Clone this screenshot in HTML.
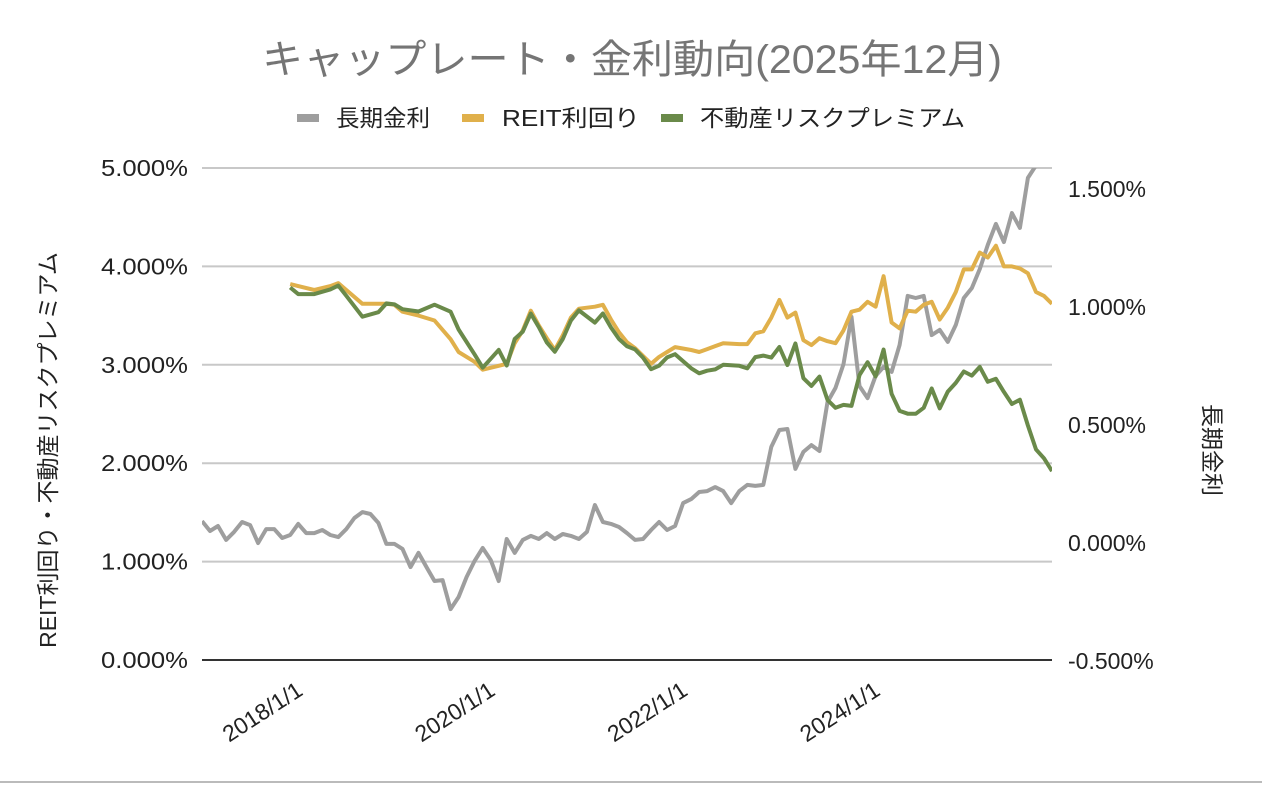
<!DOCTYPE html>
<html><head><meta charset="utf-8">
<style>
html,body{margin:0;padding:0;background:#fff;}
body{width:1262px;height:784px;overflow:hidden;font-family:"Liberation Sans","Noto Sans CJK JP",sans-serif;}
</style></head>
<body>
<svg id="chart" width="1262" height="784" xmlns="http://www.w3.org/2000/svg" style="font-family:'Liberation Sans','Noto Sans CJK JP',sans-serif">
<rect x="0" y="0" width="1262" height="784" fill="#fff"/>
<line x1="0" y1="782" x2="1262" y2="782" stroke="#bbb" stroke-width="2"/>
<text x="632" y="73" text-anchor="middle" font-size="40" fill="#757575" textLength="740" lengthAdjust="spacingAndGlyphs">キャップレート・金利動向(2025年12月)</text>
<g font-size="23" fill="#222">
 <g><rect x="297" y="114" width="22" height="8" fill="#9e9e9e"/><text x="336" y="126" textLength="94" lengthAdjust="spacingAndGlyphs">長期金利</text></g>
 <g><rect x="462" y="114" width="22" height="8" fill="#e0b04b"/><text x="502" y="126" textLength="138" lengthAdjust="spacingAndGlyphs">REIT利回り</text></g>
 <g><rect x="661" y="114" width="22" height="8" fill="#6a8a4a"/><text x="700" y="126" textLength="265" lengthAdjust="spacingAndGlyphs">不動産リスクプレミアム</text></g>
</g>
<g id="grid"></g>
<g id="marks"></g>
<g id="axes"></g>
<text transform="translate(56,450) rotate(-90)" text-anchor="middle" font-size="23" fill="#222">REIT利回り・不動産リスクプレミアム</text>
<text transform="translate(1204,450) rotate(90)" text-anchor="middle" font-size="23" fill="#222">長期金利</text>
</svg>
<script>
const leftTicks=[0,1,2,3,4,5];
const rightTicks=[-0.5,0,0.5,1.0,1.5];
const xTickMonths=[10,34,58,82];
const xTickLabels=["2018/1/1","2020/1/1","2022/1/1","2024/1/1"];
// long-term rate, monthly from month 0 (2017/3)
const jgb=[0.093,0.051,0.072,0.013,0.047,0.089,0.076,0,0.059,0.059,
0.021,0.034,0.081,0.042,0.042,0.055,0.034,0.025,0.059,0.106,
0.131,0.123,0.085,-0.004,-0.004,-0.025,-0.102,-0.042,-0.102,-0.161,
-0.157,-0.28,-0.229,-0.144,-0.076,-0.021,-0.072,-0.161,0.017,-0.042,
0.013,0.03,0.017,0.042,0.017,0.038,0.03,0.017,0.047,0.161,
0.089,0.081,0.068,0.042,0.013,0.017,0.055,0.089,0.055,0.072,
0.169,0.186,0.216,0.22,0.237,0.22,0.169,0.22,0.246,0.242,
0.246,0.407,0.479,0.483,0.314,0.386,0.415,0.39,0.597,0.657,
0.758,0.958,0.665,0.614,0.708,0.746,0.725,0.839,1.047,1.038,
1.047,0.881,0.903,0.852,0.924,1.038,1.08,1.161,1.263,1.352,
1.275,1.398,1.335,1.547,1.6,1.65,1.7];
const reitMonths=[11,12,14,16,17,18,20,22,23,24,25,27,29,31,32,34,35,37,38,39,
40,41,42,43,44,45,46,47,49,50,51,52,53,54,55,56,57,58,59,61,
62,63,64,65,67,68,69,70,71,72,73,74,75,76,77,78,79,80,81,82,
83,84,85,86,87,88,89,90,91,92,93,94,95,96,97,98,99,100,101,102,
103,104,105,106];
const reit=[3.82,3.80,3.76,3.80,3.83,3.76,3.62,3.62,3.62,3.61,
3.54,3.50,3.45,3.26,3.13,3.03,2.95,2.99,3.01,3.22,
3.35,3.55,3.40,3.27,3.15,3.30,3.48,3.57,3.59,3.61,
3.46,3.33,3.23,3.17,3.09,3.01,3.08,3.13,3.18,3.15,
3.13,3.16,3.19,3.22,3.21,3.21,3.32,3.34,3.48,3.66,
3.48,3.53,3.25,3.20,3.27,3.24,3.22,3.35,3.54,3.56,
3.64,3.59,3.90,3.43,3.37,3.55,3.54,3.61,3.64,3.46,
3.58,3.74,3.97,3.97,4.14,4.09,4.21,4.00,4.00,3.98,
3.93,3.74,3.70,3.62];
const premium=reit.map((v,i)=>v-jgb[reitMonths[i]]);

const NS="http://www.w3.org/2000/svg";
const X0=202,X1=1052,NM=106;
const xs=m=>X0+(X1-X0)*m/NM;
const yL=v=>660-v*98.4;
const yR=v=>543-v*236;
function mk(t,a,p){const e=document.createElementNS(NS,t);for(const k in a)e.setAttribute(k,a[k]);p.appendChild(e);return e;}
const grid=document.getElementById('grid'),axes=document.getElementById('axes'),marks=document.getElementById('marks');
leftTicks.forEach(v=>{
  if(v>0){const g=mk('line',{x1:X0,x2:X1,y1:yL(v),y2:yL(v),stroke:'#c8c8c8','stroke-width':2},grid);
  
  }
  const t=mk('text',{x:188,y:yL(v)+8,'text-anchor':'end','font-size':23,fill:'#222',textLength:87,lengthAdjust:'spacingAndGlyphs'},axes);
  t.textContent=v.toFixed(3)+'%';
  
  
});
rightTicks.forEach(v=>{
  const t=mk('text',{x:1068,y:yR(v)+8,'font-size':23,fill:'#222'},axes);
  t.textContent=v.toFixed(3)+'%';
  
  
});
const base=mk('line',{x1:X0,x2:X1,y1:660,y2:660,stroke:'#333','stroke-width':2},axes);


xTickMonths.forEach((m,i)=>{
  const t=mk('text',{transform:`translate(${xs(m)+22},${694}) rotate(-33)`,'text-anchor':'end','font-size':23,fill:'#222'},axes);
  t.textContent=xTickLabels[i];
  
  
});
const defs=mk('defs',{},marks);
const cp=mk('clipPath',{id:'clip'},defs);
mk('rect',{x:X0,y:168,width:X1-X0,height:500},cp);
function line(pts,color,name){
  const d=pts.map((p,i)=>(i?'L':'M')+p[0].toFixed(1)+','+p[1].toFixed(1)).join('');
  const e=mk('path',{d:d,fill:'none',stroke:color,'stroke-width':4,'stroke-linejoin':'round','clip-path':'url(#clip)'},marks);
  
  
}
line(jgb.map((v,i)=>[xs(i),yR(v)]),'#9e9e9e','jgb-line');
line(reit.map((v,i)=>[xs(reitMonths[i]),yL(v)]),'#e0b04b','reit-yield-line');
line(premium.map((v,i)=>[xs(reitMonths[i]),yL(v)]),'#6a8a4a','risk-premium-line');
</script>
</body></html>
